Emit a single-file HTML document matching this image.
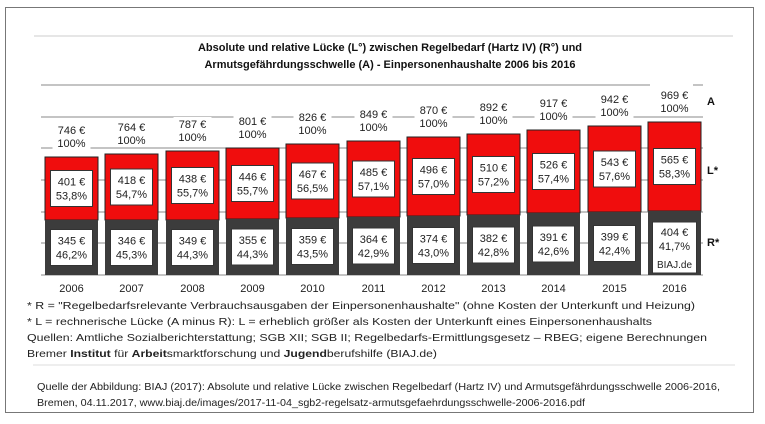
<!DOCTYPE html>
<html><head><meta charset="utf-8"><style>
html,body{margin:0;padding:0;background:#fff;}
svg{display:block;font-family:"Liberation Sans",Arial,sans-serif;}
.r{fill:#f00d0d;stroke:#222;stroke-width:1}
.d{fill:#3c3c3c}
.b{fill:#fff;stroke:#333;stroke-width:1}
.w{fill:#fff}
.t{font-size:11px;fill:#222;text-anchor:middle}
</style></head><body>
<svg width="765" height="424" viewBox="0 0 765 424" xmlns="http://www.w3.org/2000/svg">
<rect x="5.5" y="7.5" width="748" height="405" fill="#fff" stroke="#777" stroke-width="1"/>
<line x1="34" y1="36" x2="733" y2="36" stroke="#ccc" stroke-width="1"/>
<g font-size="11" font-weight="bold" fill="#111" text-anchor="middle">
<text x="390" y="51">Absolute und relative Lücke (L°) zwischen Regelbedarf (Hartz IV) (R°) und</text>
<text x="390" y="68">Armutsgefährdungsschwelle (A) -  Einpersonenhaushalte  2006 bis 2016</text>
</g>
<line x1="41" y1="85" x2="650" y2="85" stroke="#888" stroke-width="1"/>
<line x1="693" y1="85" x2="703" y2="85" stroke="#888" stroke-width="1"/>
<g stroke="#888" stroke-width="1">
<line x1="41" y1="117" x2="703" y2="117"/>
<line x1="41" y1="148" x2="703" y2="148"/>
<line x1="41" y1="180" x2="703" y2="180"/>
<line x1="41" y1="212" x2="703" y2="212"/>
<line x1="41" y1="243" x2="703" y2="243"/>
<line x1="41" y1="275" x2="703" y2="275"/>
</g>

<g transform="translate(45,0)">
<rect class="r" x="0" y="157" width="53" height="63"/><rect class="d" x="0" y="220" width="53" height="55"/>
<rect class="b" x="5.5" y="170.5" width="42" height="36"/><text class="t" x="26.5" y="185.5">401 €</text><text class="t" x="26.5" y="199.5">53,8%</text>
<rect class="b" x="5.5" y="229.5" width="42" height="36"/><text class="t" x="26.5" y="244.5">345 €</text><text class="t" x="26.5" y="258.5">46,2%</text>
<rect class="w" x="7.5" y="123" width="38" height="27"/><text class="t" x="26.5" y="134">746 €</text><text class="t" x="26.5" y="147">100%</text>
<text class="t" x="26.5" y="292">2006</text></g>

<g transform="translate(105,0)">
<rect class="r" x="0" y="154" width="53" height="66"/><rect class="d" x="0" y="220" width="53" height="55"/>
<rect class="b" x="5.5" y="169" width="42" height="36"/><text class="t" x="26.5" y="184">418 €</text><text class="t" x="26.5" y="198">54,7%</text>
<rect class="b" x="5.5" y="229.5" width="42" height="36"/><text class="t" x="26.5" y="244.5">346 €</text><text class="t" x="26.5" y="258.5">45,3%</text>
<rect class="w" x="7.5" y="120" width="38" height="27"/><text class="t" x="26.5" y="131">764 €</text><text class="t" x="26.5" y="144">100%</text>
<text class="t" x="26.5" y="292">2007</text></g>

<g transform="translate(166,0)">
<rect class="r" x="0" y="151" width="53" height="69"/><rect class="d" x="0" y="220" width="53" height="55"/>
<rect class="b" x="5.5" y="167.5" width="42" height="36"/><text class="t" x="26.5" y="182.5">438 €</text><text class="t" x="26.5" y="196.5">55,7%</text>
<rect class="b" x="5.5" y="229.5" width="42" height="36"/><text class="t" x="26.5" y="244.5">349 €</text><text class="t" x="26.5" y="258.5">44,3%</text>
<rect class="w" x="7.5" y="117" width="38" height="27"/><text class="t" x="26.5" y="128">787 €</text><text class="t" x="26.5" y="141">100%</text>
<text class="t" x="26.5" y="292">2008</text></g>

<g transform="translate(226,0)">
<rect class="r" x="0" y="148" width="53" height="71"/><rect class="d" x="0" y="219" width="53" height="56"/>
<rect class="b" x="5.5" y="165.5" width="42" height="36"/><text class="t" x="26.5" y="180.5">446 €</text><text class="t" x="26.5" y="194.5">55,7%</text>
<rect class="b" x="5.5" y="229" width="42" height="36"/><text class="t" x="26.5" y="244">355 €</text><text class="t" x="26.5" y="258">44,3%</text>
<rect class="w" x="7.5" y="114" width="38" height="27"/><text class="t" x="26.5" y="125">801 €</text><text class="t" x="26.5" y="138">100%</text>
<text class="t" x="26.5" y="292">2009</text></g>

<g transform="translate(286,0)">
<rect class="r" x="0" y="144" width="53" height="74"/><rect class="d" x="0" y="218" width="53" height="57"/>
<rect class="b" x="5.5" y="163" width="42" height="36"/><text class="t" x="26.5" y="178">467 €</text><text class="t" x="26.5" y="192">56,5%</text>
<rect class="b" x="5.5" y="228.5" width="42" height="36"/><text class="t" x="26.5" y="243.5">359 €</text><text class="t" x="26.5" y="257.5">43,5%</text>
<rect class="w" x="7.5" y="110" width="38" height="27"/><text class="t" x="26.5" y="121">826 €</text><text class="t" x="26.5" y="134">100%</text>
<text class="t" x="26.5" y="292">2010</text></g>

<g transform="translate(347,0)">
<rect class="r" x="0" y="141" width="53" height="76"/><rect class="d" x="0" y="217" width="53" height="58"/>
<rect class="b" x="5.5" y="161" width="42" height="36"/><text class="t" x="26.5" y="176">485 €</text><text class="t" x="26.5" y="190">57,1%</text>
<rect class="b" x="5.5" y="228" width="42" height="36"/><text class="t" x="26.5" y="243">364 €</text><text class="t" x="26.5" y="257">42,9%</text>
<rect class="w" x="7.5" y="107" width="38" height="27"/><text class="t" x="26.5" y="118">849 €</text><text class="t" x="26.5" y="131">100%</text>
<text class="t" x="26.5" y="292">2011</text></g>

<g transform="translate(407,0)">
<rect class="r" x="0" y="137" width="53" height="79"/><rect class="d" x="0" y="216" width="53" height="59"/>
<rect class="b" x="5.5" y="158.5" width="42" height="36"/><text class="t" x="26.5" y="173.5">496 €</text><text class="t" x="26.5" y="187.5">57,0%</text>
<rect class="b" x="5.5" y="227.5" width="42" height="36"/><text class="t" x="26.5" y="242.5">374 €</text><text class="t" x="26.5" y="256.5">43,0%</text>
<rect class="w" x="7.5" y="103" width="38" height="27"/><text class="t" x="26.5" y="114">870 €</text><text class="t" x="26.5" y="127">100%</text>
<text class="t" x="26.5" y="292">2012</text></g>

<g transform="translate(467,0)">
<rect class="r" x="0" y="134" width="53" height="81"/><rect class="d" x="0" y="215" width="53" height="60"/>
<rect class="b" x="5.5" y="156.5" width="42" height="36"/><text class="t" x="26.5" y="171.5">510 €</text><text class="t" x="26.5" y="185.5">57,2%</text>
<rect class="b" x="5.5" y="227" width="42" height="36"/><text class="t" x="26.5" y="242">382 €</text><text class="t" x="26.5" y="256">42,8%</text>
<rect class="w" x="7.5" y="100" width="38" height="27"/><text class="t" x="26.5" y="111">892 €</text><text class="t" x="26.5" y="124">100%</text>
<text class="t" x="26.5" y="292">2013</text></g>

<g transform="translate(527,0)">
<rect class="r" x="0" y="130" width="53" height="83"/><rect class="d" x="0" y="213" width="53" height="62"/>
<rect class="b" x="5.5" y="153.5" width="42" height="36"/><text class="t" x="26.5" y="168.5">526 €</text><text class="t" x="26.5" y="182.5">57,4%</text>
<rect class="b" x="5.5" y="226" width="42" height="36"/><text class="t" x="26.5" y="241">391 €</text><text class="t" x="26.5" y="255">42,6%</text>
<rect class="w" x="7.5" y="96" width="38" height="27"/><text class="t" x="26.5" y="107">917 €</text><text class="t" x="26.5" y="120">100%</text>
<text class="t" x="26.5" y="292">2014</text></g>

<g transform="translate(588,0)">
<rect class="r" x="0" y="126" width="53" height="86"/><rect class="d" x="0" y="212" width="53" height="63"/>
<rect class="b" x="5.5" y="151" width="42" height="36"/><text class="t" x="26.5" y="166">543 €</text><text class="t" x="26.5" y="180">57,6%</text>
<rect class="b" x="5.5" y="225.5" width="42" height="36"/><text class="t" x="26.5" y="240.5">399 €</text><text class="t" x="26.5" y="254.5">42,4%</text>
<rect class="w" x="7.5" y="92" width="38" height="27"/><text class="t" x="26.5" y="103">942 €</text><text class="t" x="26.5" y="116">100%</text>
<text class="t" x="26.5" y="292">2015</text></g>

<g transform="translate(648,0)">
<rect class="r" x="0" y="122" width="53" height="89"/><rect class="d" x="0" y="211" width="53" height="64"/>
<rect class="b" x="5.5" y="148.5" width="42" height="36"/><text class="t" x="26.5" y="163.5">565 €</text><text class="t" x="26.5" y="177.5">58,3%</text>
<rect class="b" x="4.5" y="222" width="44" height="51"/><text class="t" x="26.5" y="236">404 €</text><text class="t" x="26.5" y="250">41,7%</text><text class="t" x="26.5" y="268" style="font-size:10px">BIAJ.de</text>
<rect class="w" x="7.5" y="88" width="38" height="27"/><text class="t" x="26.5" y="99">969 €</text><text class="t" x="26.5" y="112">100%</text>
<text class="t" x="26.5" y="292">2016</text></g>

<g font-size="11" font-weight="bold" fill="#111">
<text x="707" y="105">A</text>
<text x="707" y="174">L*</text>
<text x="707" y="246">R*</text>
</g>
<g font-size="10.5" fill="#222">
<text x="27" y="309" textLength="668" lengthAdjust="spacingAndGlyphs">* R = "Regelbedarfsrelevante  Verbrauchsausgaben  der Einpersonenhaushalte"  (ohne Kosten der Unterkunft  und Heizung)</text>
<text x="27" y="325" textLength="625" lengthAdjust="spacingAndGlyphs">* L = rechnerische Lücke  (A minus  R):  L = erheblich größer als  Kosten  der Unterkunft  eines  Einpersonenhaushalts</text>
<text x="27" y="341" textLength="680" lengthAdjust="spacingAndGlyphs">Quellen:  Amtliche Sozialberichterstattung;  SGB XII; SGB II; Regelbedarfs-Ermittlungsgesetz  – RBEG; eigene Berechnungen</text>
<text x="27" y="357" textLength="410" lengthAdjust="spacingAndGlyphs">Bremer <tspan font-weight="bold">Institut</tspan> für <tspan font-weight="bold">Arbeit</tspan>smarktforschung  und <tspan font-weight="bold">Jugend</tspan>berufshilfe  (BIAJ.de)</text>
</g>
<line x1="33" y1="365" x2="735" y2="365" stroke="#ddd" stroke-width="1"/>
<g font-size="10.5" fill="#222">
<text x="37" y="390" textLength="683" lengthAdjust="spacingAndGlyphs">Quelle der Abbildung: BIAJ (2017): Absolute und relative Lücke zwischen Regelbedarf (Hartz IV) und Armutsgefährdungsschwelle 2006-2016,</text>
<text x="37" y="406" textLength="548" lengthAdjust="spacingAndGlyphs">Bremen, 04.11.2017, www.biaj.de/images/2017-11-04_sgb2-regelsatz-armutsgefaehrdungsschwelle-2006-2016.pdf</text>
</g>
</svg>
</body></html>
